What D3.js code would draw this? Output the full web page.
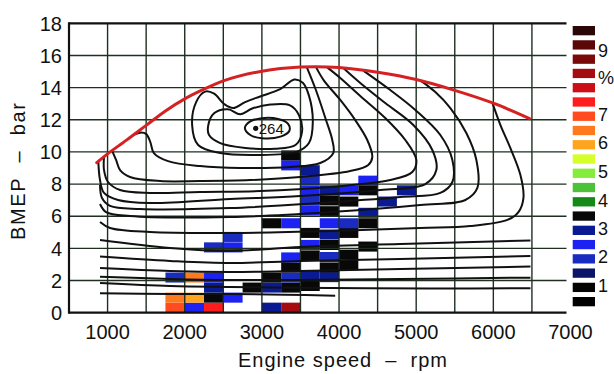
<!DOCTYPE html>
<html><head><meta charset="utf-8">
<script src="https://cdn.jsdelivr.net/npm/d3@7"></script>
<style>
body{margin:0;background:#fff}
svg{display:block}
text{font-family:"Liberation Sans",Arial,Helvetica,sans-serif;fill:#111}
</style>
</head><body>
<svg id="chart" width="614" height="374"></svg>
<script>
// ---------- data ----------
const xTickValues = [1000,2000,3000,4000,5000,6000,7000];
const yTickValues = [0,2,4,6,8,10,12,14,16,18];
const gridRpm = [1000,1500,2000,2500,3000,3500,4000,4500,5000,5500,6000,6500];
const gridBmep = [2,4,6,8,10,12,14,16];

// full-load curve (BMEP, bar vs rpm)
const fullLoadRpm  = [860,1000,1250,1500,1750,2000,2250,2500,3000,3500,4000,4500,5000,5500,6000,6470];
const fullLoadBmep = [9.33,9.88,10.75,11.65,12.55,13.3,13.9,14.42,15.02,15.28,15.25,14.95,14.5,13.83,13.03,12.07];

// BSFC minimum
const minPoint = [2920,11.47];
const minLabel = "264";

// closed contours [rpm, bmep]
const c264 = [[2780,11.5],[2850,11.9],[3000,12.1],[3210,12.05],[3340,11.75],[3355,11.3],[3240,10.95],[3000,10.85],[2850,11.05]];
const c2 = [[2303,11.6],[2380,12.4],[2560,12.65],[2720,12.35],[2875,12.7],[3110,12.95],[3365,12.9],[3480,12.3],[3520,11.25],[3440,10.45],[3170,10.2],[2785,10.25],[2460,10.55],[2315,11.05]];
const c3 = [[2096,11.67],[2148,13.1],[2264,13.75],[2381,13.62],[2511,12.98],[2628,12.73],[2783,13.1],[2978,13.45],[3237,13.9],[3420,14.5],[3530,14.3],[3610,13.5],[3660,11.86],[3610,10.55],[3450,10.0],[2913,9.81],[2459,9.93],[2174,10.43]];

// open contours [rpm, bmep]
const u1 = [[1330,11.04],[1420,11.2],[1499,11.12],[1555,10.6],[1600,9.93],[1784,9.43],[2199,9.12],[2718,9.0],[3367,9.06],[3756,9.31],[3925,9.93],[3912,10.74],[3830,12.0],[3700,13.85],[3580,15.29]];
const u2 = [[1058,10.08],[1110,9.5],[1162,8.87],[1291,8.44],[1681,8.19],[2199,8.19],[2848,8.25],[3497,8.44],[4145,8.81],[4379,9.19],[4431,9.68],[4366,10.74],[4210,11.98],[4016,13.23],[3800,14.47],[3700,15.29]];
const u3 = [[954,9.7],[954,8.87],[1006,8.13],[1162,7.63],[1551,7.45],[2199,7.51],[2978,7.57],[3886,7.82],[4664,8.25],[4950,8.75],[5002,9.5],[4859,10.74],[4599,12.11],[4275,13.48],[4016,14.6],[3847,15.26]];
const u4 = [[880,9.41],[902,8.25],[954,7.45],[1136,7.01],[1551,6.82],[2589,7.07],[3497,7.26],[4535,7.63],[5118,8.0],[5261,8.87],[5209,10.12],[4963,11.67],[4599,13.04],[4275,14.29],[4055,15.22]];
const u5 = [[902,7.94],[928,7.13],[1032,6.64],[1421,6.45],[2589,6.51],[3756,6.82],[4794,7.19],[5313,7.45],[5469,8.13],[5469,9.5],[5313,11.05],[4989,12.61],[4664,13.85],[4314,15.06]];
const u6 = [[902,6.76],[980,6.26],[1291,6.01],[2589,5.95],[3886,6.26],[5054,6.7],[5637,7.01],[5793,7.76],[5780,9.5],[5650,11.18],[5443,12.73],[5248,13.72],[5054,14.45]];
const u7 = [[902,5.64],[1032,5.27],[1551,5.02],[2589,4.96],[3886,5.08],[5054,5.27],[5702,5.39],[6182,5.77],[6325,6.26],[6390,7.13],[6351,8.56],[6221,10.24],[6092,11.67],[5988,13.05]];
const h1 = [[902,4.52],[1810,4.02],[2589,3.84],[3497,4.09],[4794,4.27],[6481,4.49]];
const h2 = [[902,3.49],[1810,3.22],[2589,3.09],[3497,3.22],[4794,3.34],[6481,3.52]];
const h3 = [[902,2.78],[1810,2.59],[2589,2.53],[3497,2.59],[4794,2.72],[6481,2.87]];
const h4 = [[902,2.24],[1810,2.1],[2589,2.03],[3497,2.03],[4794,2.1],[6481,2.18]];
const h5 = [[902,1.85],[1810,1.66],[2589,1.6],[3886,1.54],[5183,1.5],[6481,1.52]];
const h6 = [[902,1.21],[1810,1.16],[2589,1.16],[3300,1.12],[3950,1.05]];

const closedContours = [c264, c2, c3];
const openContours = [u1,u2,u3,u4,u5,u6,u7,h1,h2,h3,h4,h5,h6];

// operating-time cells: [rpm bin start, bmep bin start, legend class]
const cellRpmStep = 250, cellBmepStep = 0.625;
const cells = [
 [1750,0,6],[1750,0.625,7],[1750,1.875,16],
 [2000,0,15],[2000,0.625,8],[2000,1.875,7],
 [2250,0,5],[2250,0.625,13],[2250,1.25,14],[2250,1.875,15],[2250,3.75,16],
 [2500,0.625,15],[2500,3.75,15],[2500,4.4,16],
 [2750,1.25,13],
 [3000,0,14],[3000,1.25,14],[3000,1.875,13],[3000,5.25,13],
 [3250,0,3],[3250,1.25,13],[3250,1.875,16],[3250,2.5,13],[3250,3.125,15],[3250,5.25,15],[3250,8.85,15],[3250,9.47,13],
 [3500,1.35,13],[3500,2.0,14],[3500,3.25,13],[3500,3.9,15],[3500,4.65,13],[3500,6.05,15],[3500,6.67,16],[3500,7.3,15],[3500,7.93,16],[3500,8.55,14],
 [3750,1.9,14],[3750,2.5,13],[3750,3.15,16],[3750,3.9,13],[3750,4.55,14],[3750,5.25,15],[3750,6.0,13],[3750,6.67,13],[3750,7.3,14],
 [4000,2.65,13],[4000,3.3,13],[4000,4.65,13],[4000,5.25,16],[4000,6.6,13],[4000,7.3,15],
 [4250,3.8,13],[4250,5.25,13],[4250,5.9,14],[4250,7.3,13],[4250,7.9,15],
 [4500,6.6,14],
 [4750,7.3,14]
];

// legend colour classes (top to bottom) and labels
const legendColors = ["#2a0606","#5a0808","#7a0a0a","#a50c12","#cc0e16","#ff1c1c","#ff4b1e","#ff7a1e","#ffa41e","#d4ff28",
                      "#84ec3a","#4cc23a","#138a18","#080808","#0a1a92","#1c22f2","#1a2cc0","#0a1468","#050505","#000000"];
const legendLabels = ["9","%","7","6","5","4","3","2","1"];
const legendLabelSlots = [1.4,3.3,5.85,7.85,9.9,11.9,13.85,15.85,17.85];

const xTitle = "Engine speed  \u2013  rpm";
const yTitle = "BMEP  \u2013  bar";

// ---------- drawing ----------
const svg = d3.select("#chart");
const x = d3.scaleLinear().domain([500,7000]).range([69,570.5]);
const y = d3.scaleLinear().domain([0,18]).range([312.7,23.3]);
const colorOf = d3.scaleOrdinal().domain(d3.range(legendColors.length)).range(legendColors);
const gridEnd = x.range()[1]-4;

// cells
svg.append("g").selectAll("rect").data(cells).join("rect")
  .attr("x", d => x(d[0]))
  .attr("width", d => x(d[0]+cellRpmStep)-x(d[0]))
  .attr("y", d => y(d[1]+cellBmepStep))
  .attr("height", d => y(d[1])-y(d[1]+cellBmepStep))
  .attr("fill", d => colorOf(d[2]));

// grid
const grid = svg.append("g").attr("stroke","#1f2f22").attr("stroke-width",1.4);
grid.selectAll("line.v").data(gridRpm).join("line").attr("class","v")
  .attr("x1",d=>x(d)).attr("x2",d=>x(d)).attr("y1",y(0)).attr("y2",y(18));
grid.selectAll("line.h").data(gridBmep).join("line").attr("class","h")
  .attr("x1",x(500)).attr("x2",gridEnd).attr("y1",d=>y(d)).attr("y2",d=>y(d));

// frame lines
const frame = svg.append("g").attr("stroke","#111").attr("stroke-width",2.2);
frame.append("line").attr("x1",x(500)).attr("x2",x(500)).attr("y1",y(0)+1).attr("y2",y(18)-1);
frame.append("line").attr("x1",x(500)).attr("x2",gridEnd).attr("y1",y(0)).attr("y2",y(0));
frame.append("line").attr("x1",x(500)).attr("x2",gridEnd).attr("y1",y(18)).attr("y2",y(18));

// contours
const lineOpen = d3.line().x(d=>x(d[0])).y(d=>y(d[1])).curve(d3.curveCatmullRom.alpha(0.5));
const lineClosed = d3.line().x(d=>x(d[0])).y(d=>y(d[1])).curve(d3.curveCatmullRomClosed.alpha(0.5));
const cg = svg.append("g").attr("fill","none").attr("stroke","#111").attr("stroke-width",2);
cg.selectAll("path.o").data(openContours).join("path").attr("class","o").attr("d",lineOpen);
cg.selectAll("path.c").data(closedContours).join("path").attr("class","c").attr("d",lineClosed);

// minimum point and label
svg.append("circle").attr("cx",x(minPoint[0])).attr("cy",y(minPoint[1])).attr("r",2.6).attr("fill","#111");
svg.append("text").attr("x",x(minPoint[0])+3).attr("y",y(minPoint[1])).attr("dy","0.36em")
  .attr("font-size",15).text(minLabel);

// full-load curve
const fullLoad = fullLoadRpm.map((r,i)=>[r,fullLoadBmep[i]]);
svg.append("path").datum(fullLoad).attr("d",lineOpen).attr("fill","none")
  .attr("stroke","#d42222").attr("stroke-width",3).attr("stroke-linecap","round");

// tick labels
svg.append("g").selectAll("text").data(xTickValues).join("text")
  .attr("x",d=>x(d)).attr("y",339).attr("text-anchor","middle").attr("font-size",20).text(d=>d);
svg.append("g").selectAll("text").data(yTickValues).join("text")
  .attr("x",62).attr("y",d=>y(d)).attr("dy","0.36em").attr("text-anchor","end").attr("font-size",20).text(d=>d);

// axis titles
svg.append("text").attr("x",238).attr("y",366.5).attr("font-size",20)
  .attr("xml:space","preserve").attr("textLength",209).attr("lengthAdjust","spacing").text(xTitle);
svg.append("text").attr("transform","translate(25,171.5) rotate(-90)").attr("text-anchor","middle")
  .attr("font-size",20).attr("xml:space","preserve").attr("textLength",137).attr("lengthAdjust","spacing").text(yTitle);

// legend
const ly = d3.scaleLinear().domain([0,legendColors.length-1]).range([26,297]);
const lg = svg.append("g");
lg.selectAll("rect").data(legendColors).join("rect")
  .attr("x",572.7).attr("width",22.3).attr("y",(d,i)=>ly(i)).attr("height",9.3).attr("fill",d=>d);
lg.selectAll("text").data(legendLabels).join("text")
  .attr("x",598).attr("y",(d,i)=>ly(legendLabelSlots[i])+4.6).attr("dy","0.36em")
  .attr("font-size",18).text(d=>d);
</script>
</body></html>
